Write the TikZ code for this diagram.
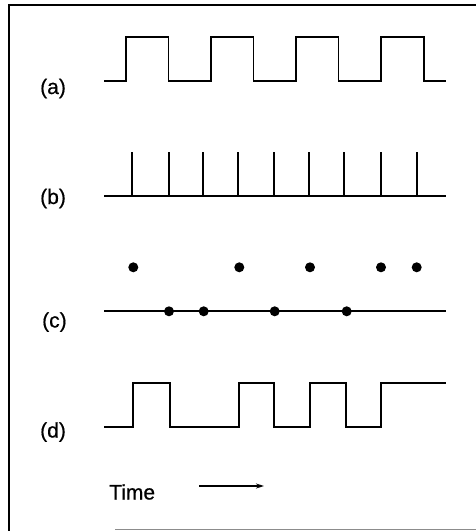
\documentclass[tikz,border=0pt]{standalone}
\usepackage{fontspec}
\setmainfont{Liberation Sans}
\newfontfamily\lblfont[FakeBold=0.6]{Liberation Sans}
\usetikzlibrary{arrows.meta}
\begin{document}
\begin{tikzpicture}[x=1pt,y=-1pt,
  wave/.style={line width=1.7pt, line join=miter},
  frameline/.style={line width=1.8pt},
  lbl/.style={anchor=base west, inner sep=0pt, font=\lblfont\fontsize{21}{24}\selectfont},
  dot/.style={fill=black}]
\useasboundingbox (0,0) rectangle (476,531);
% frame
\draw[frameline] (476,5) -- (9,5) -- (9,531);
\draw[line width=1.2pt, black!45] (115,529.8) -- (476,529.8);
% labels
\node[lbl] (la) at (40,94) {(a)};
\node[lbl] (lb) at (40,204) {(b)};
\node[lbl] (lc) at (42,327.5) {(c)};
\node[lbl] (ld) at (40,437.5) {(d)};
\node[lbl] (time) at (109,499.5) {Time};
% (a) square wave
\draw[wave] (104,80.7) -- (126,80.7) -- (126,37.3) -- (168.5,37.3) -- (168.5,80.7)
  -- (211,80.7) -- (211,37.3) -- (253.5,37.3) -- (253.5,80.7)
  -- (296,80.7) -- (296,37.3) -- (338.5,37.3) -- (338.5,80.7)
  -- (381,80.7) -- (381,37.3) -- (424,37.3) -- (424,80.7) -- (446,80.7);
% (b) clock ticks
\draw[wave] (104,195.7) -- (446,195.7);
\foreach \x in {132.3,169,203.3,237.7,273.7,309.3,344.3,381,416.7}
  \draw[wave] (\x,195.7) -- (\x,152);
% (c) dots
\draw[wave] (104,311.3) -- (446,311.3);
\foreach \x in {133.3,239.3,310,381,416.7}
  \fill[dot] (\x,267.3) circle (5);
\foreach \x in {169,203.7,274.7,346.7}
  \fill[dot] (\x,311.3) circle (5);
% (d) NRZ waveform
\draw[wave] (104,426.7) -- (133.3,426.7) -- (133.3,382.7) -- (170,382.7) -- (170,426.7)
  -- (238.7,426.7) -- (238.7,382.7) -- (274.3,382.7) -- (274.3,426.7)
  -- (310,426.7) -- (310,382.7) -- (345.7,382.7) -- (345.7,426.7)
  -- (381,426.7) -- (381,382.7) -- (446,382.7);
% time arrow
\coordinate (ta) at (199,486);
\coordinate (tb) at (264,486);
\draw[line width=1.4pt, -{Stealth[length=8pt,width=5pt]}] (ta) -- (tb);
\end{tikzpicture}
\end{document}
